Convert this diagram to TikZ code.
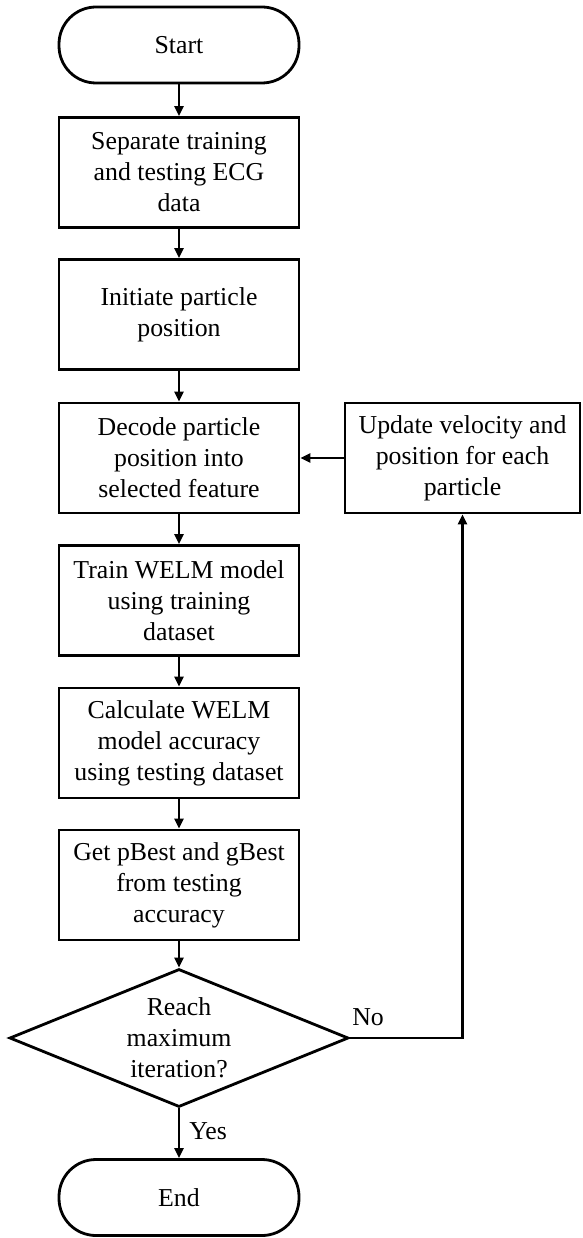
\documentclass[tikz,border=0pt]{standalone}
\usepackage{fontspec}
\setmainfont{Liberation Serif}
\usetikzlibrary{arrows.meta,shapes.geometric,calc}
\begin{document}
\begin{tikzpicture}[x=1pt,y=-1pt,
  every node/.style={font=\fontsize{25.8pt}{31pt}\selectfont, align=center},
  stepbox/.style={draw, line width=2.8pt, minimum width=240pt, minimum height=110pt, inner sep=2pt},
  termbox/.style={draw, line width=2.8pt, rounded corners=37pt, minimum width=240pt, minimum height=76pt},
  decbox/.style={draw, line width=2.8pt, diamond, aspect=2.46, inner sep=0pt, minimum width=339pt, minimum height=138pt},
  flow/.style={line width=2.8pt, -{Triangle[length=10pt,width=9pt]}},
  lbl/.style={inner sep=0pt}]
\useasboundingbox (0,0) rectangle (582,1238);
\node[termbox] (start) at (179,45) {Start};
\node[stepbox] (b1) at (179,172.5) {Separate training\\and testing ECG\\data};
\node[stepbox] (b2) at (179,314.5) {Initiate particle\\position};
\node[stepbox] (b3) at (179,458) {Decode particle\\position into\\selected feature};
\node[stepbox, minimum width=235pt] (upd) at (462.5,458) {Update velocity and\\position for each\\particle};
\node[stepbox] (b4) at (179,600.5) {Train WELM model\\using training\\dataset};
\node[stepbox] (b5) at (179,743) {Calculate WELM\\model accuracy\\using testing dataset};
\node[stepbox] (b6) at (179,885) {Get pBest and gBest\\from testing\\accuracy};
\node[decbox] (dec) at (179,1038) {Reach\\maximum\\iteration?};
\node[termbox] (end) at (179,1197.5) {End};
\draw[flow] (start) -- (b1);
\draw[flow] (b1) -- (b2);
\draw[flow] (b2) -- (b3);
\draw[flow] (b3) -- (b4);
\draw[flow] (b4) -- (b5);
\draw[flow] (b5) -- (b6);
\draw[flow] (b6) -- (dec);
\draw[flow] (upd) -- (b3);
\draw[flow] (dec.east) node[lbl, anchor=base west, xshift=1pt, yshift=13pt] {No} -| (upd.south);
\draw[flow] (dec.south) -- node[lbl, anchor=west, xshift=9pt, yshift=2pt] {Yes} (end.north);
\end{tikzpicture}
\end{document}
